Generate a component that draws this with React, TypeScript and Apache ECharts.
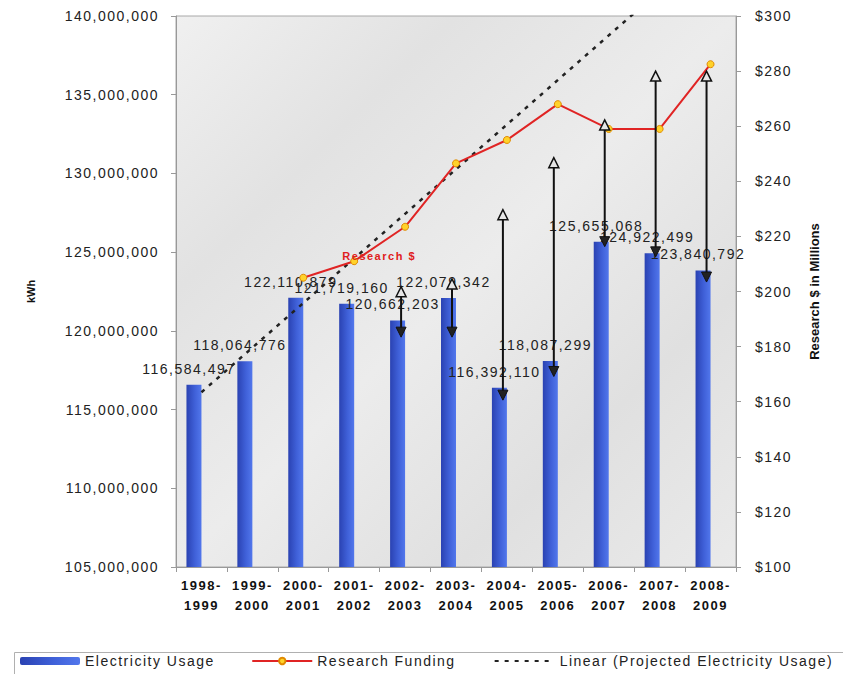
import React, { useEffect, useRef } from "react";
import * as echarts from "echarts";

const categories = [
  "1998-\n1999", "1999-\n2000", "2000-\n2001", "2001-\n2002", "2002-\n2003", "2003-\n2004",
  "2004-\n2005", "2005-\n2006", "2006-\n2007", "2007-\n2008", "2008-\n2009",
];
const electricityUsage = [
  116584497, 118064776, 122110879, 121719160, 120662203, 122079342,
  116392110, 118087299, 125655068, 124922499, 123840792,
];
const researchFunding = [null, null, 205, 211, 223.5, 246.5, 255, 268, 259, 259, 282.5];
// projected (linear) usage: endpoints at category index 0 and 9
const trendPoints = [
  [0, 116100000],
  [9, 141600000],
];
// arrows: category index, projected value (top), actual-ish value (bottom)
const arrowCategory = [4, 5, 6, 7, 8, 9, 10];
const arrowTop = [122800000, 123300000, 127700000, 131000000, 133400000, 136500000, 136500000];
const arrowBottom = [119600000, 119600000, 115600000, 117100000, 125350000, 124700000, 123100000];

const FONT = "'Liberation Sans', Arial, sans-serif";
const fmt = (v: number) => Math.round(v).toLocaleString("en-US");

export default function App() {
  const ref = useRef<HTMLDivElement>(null);
  useEffect(() => {
    if (!ref.current) return;
    const chart = echarts.init(ref.current, null, { renderer: "svg" });
    const arrowData = arrowCategory.map((c, i) => [c, arrowTop[i], arrowBottom[i]]);
    chart.setOption({
      animation: false,
      textStyle: { fontFamily: FONT },
      grid: {
        left: 176,
        right: 107,
        top: 16,
        bottom: 107,
        show: true,
        borderColor: "#a8a8a8",
        borderWidth: 1,
        backgroundColor: {
          type: "linear",
          x: 0, y: 0, x2: 1, y2: 1,
          colorStops: [
            { offset: 0, color: "#f0f0f0" },
            { offset: 0.25, color: "#e2e2e2" },
            { offset: 0.5, color: "#ececec" },
            { offset: 0.75, color: "#e0e0e0" },
            { offset: 1, color: "#eaeaea" },
          ],
        },
      },
      legend: {
        left: 20,
        top: 654,
        padding: 0,
        itemWidth: 60,
        itemHeight: 8,
        itemGap: 62,
        textStyle: { fontSize: 14, color: "#222", fontFamily: FONT },
        data: [
          "Electricity Usage",
          "Research Funding",
          { name: "Linear (Projected Electricity Usage)", itemStyle: { opacity: 0 } },
        ],
      },
      graphic: [
        {
          type: "rect",
          left: 12,
          top: 650,
          shape: { width: 900, height: 60 },
          style: { fill: "none", stroke: "#b0b0b0", lineWidth: 1 },
          silent: true,
        },
      ],
      xAxis: {
        type: "category",
        data: categories,
        axisLine: { show: true, lineStyle: { color: "#999" } },
        axisTick: { show: true, length: 5, lineStyle: { color: "#999" } },
        axisLabel: {
          interval: 0,
          margin: 8,
          fontSize: 13,
          fontWeight: "bold",
          color: "#111",
          lineHeight: 20,
          fontFamily: FONT,
        },
      },
      yAxis: [
        {
          type: "value",
          min: 105000000,
          max: 140000000,
          interval: 5000000,
          name: "kWh",
          nameLocation: "middle",
          nameRotate: 90,
          nameGap: 140,
          nameTextStyle: { fontSize: 11, fontWeight: "bold", color: "#111", fontFamily: FONT },
          axisLine: { show: true, lineStyle: { color: "#999" } },
          axisTick: { show: true, length: 5, lineStyle: { color: "#999" } },
          splitLine: { show: false },
          axisLabel: { formatter: fmt, fontSize: 14, color: "#222", margin: 17, fontFamily: FONT },
        },
        {
          type: "value",
          position: "right",
          min: 100,
          max: 300,
          interval: 20,
          name: "Research $ in Millions",
          nameLocation: "middle",
          nameRotate: 90,
          nameGap: 72,
          nameTextStyle: { fontSize: 13, fontWeight: "bold", color: "#111", fontFamily: FONT },
          axisLine: { show: true, lineStyle: { color: "#999" } },
          axisTick: { show: true, length: 5, lineStyle: { color: "#999" } },
          splitLine: { show: false },
          axisLabel: { formatter: (v: number) => "$" + v, fontSize: 14, color: "#222", margin: 19, fontFamily: FONT },
        },
      ],
      series: [
        {
          name: "Electricity Usage",
          type: "bar",
          data: electricityUsage,
          barWidth: 15,
          barGap: "0%",
          itemStyle: {
            color: {
              type: "linear",
              x: 0, y: 0, x2: 1, y2: 0,
              colorStops: [
                { offset: 0, color: "#2a42b2" },
                { offset: 0.55, color: "#3f60d8" },
                { offset: 1, color: "#5277ec" },
              ],
            },
          },
          label: {
            show: true,
            position: "top",
            distance: 9,
            offset: [-5, 0],
            formatter: (p: any) => fmt(p.value),
            fontSize: 14,
            color: "#222",
            fontFamily: FONT,
          },
          z: 2,
        },
        {
          name: "_spacer",
          type: "bar",
          data: [],
          barWidth: 15,
          silent: true,
        },
        {
          name: "Linear (Projected Electricity Usage)",
          type: "line",
          data: trendPoints,
          symbol: "none",
          lineStyle: { color: "#222", width: 2.5, type: [4, 6] },
          itemStyle: { color: "#222" },
          z: 3,
        },
        {
          name: "Research Funding",
          type: "line",
          yAxisIndex: 1,
          data: researchFunding.map((v, i) =>
            i === 3
              ? {
                  value: v,
                  label: {
                    show: true,
                    position: "inside",
                    offset: [25, -5],
                    formatter: "Research $",
                    color: "#e02020",
                    fontSize: 11,
                    fontWeight: "bold",
                    fontFamily: FONT,
                  },
                }
              : v
          ),
          symbol: "circle",
          symbolSize: 7,
          lineStyle: { color: "#e02424", width: 2 },
          itemStyle: { color: "#ffd22a", borderColor: "#e08a00", borderWidth: 1 },
          z: 4,
        },
        {
          name: "Gap",
          type: "custom",
          data: arrowData,
          encode: { x: 0, y: [1, 2] },
          z: 5,
          renderItem: (params: any, api: any) => {
            const c = api.value(0);
            const p1 = api.coord([c, api.value(1)]);
            const p2 = api.coord([c, api.value(2)]);
            const cx = p1[0] - 4;
            const t = p1[1];
            const b = p2[1];
            return {
              type: "group",
              children: [
                {
                  type: "line",
                  shape: { x1: cx, y1: t + 3, x2: cx, y2: b - 3 },
                  style: { stroke: "#111", lineWidth: 2 },
                },
                {
                  type: "polygon",
                  shape: { points: [[cx, t], [cx - 5, t + 10], [cx + 5, t + 10]] },
                  style: { fill: "#e6e6e6", stroke: "#111", lineWidth: 1.5 },
                },
                {
                  type: "polygon",
                  shape: { points: [[cx, b], [cx - 5, b - 10], [cx + 5, b - 10]] },
                  style: { fill: "#222", stroke: "#111", lineWidth: 1 },
                },
              ],
            };
          },
        },
      ],
    });
    return () => chart.dispose();
  }, []);
  return (
    <>
      <style>{`
        .chartbox text { letter-spacing: 1.5px; }
        .chartbox text[transform^="matrix(0,"],
        .chartbox text[transform^="matrix(6.1"],
        .chartbox text[transform^="matrix(-1.8"],
        .chartbox text[transform^="matrix(0.0"] { letter-spacing: 0; }
      `}</style>
      <div
        ref={ref}
        className="chartbox"
        style={{ position: "fixed", left: 0, top: 0, width: 843, height: 674, background: "#fff" }}
      />
    </>
  );
}
